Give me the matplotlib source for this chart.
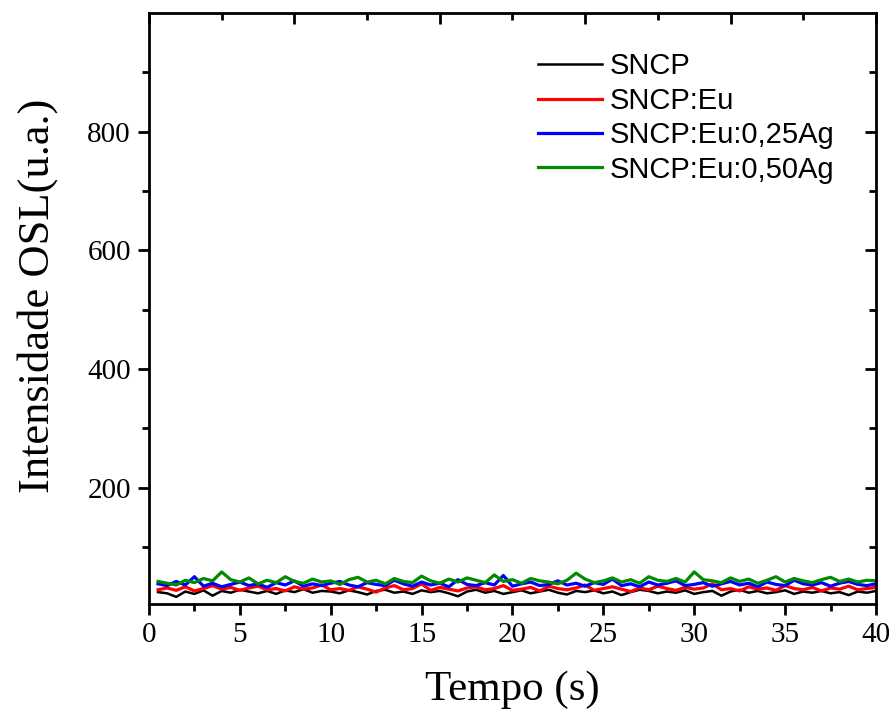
import numpy as np
import matplotlib.pyplot as plt

tempo = np.arange(1, 81) * 0.5

sncp = [24, 22, 16, 25, 21, 27, 18, 26, 23, 28, 25, 22, 26, 21, 27, 24, 29, 23, 26, 25,
        22, 27, 24, 20, 26, 28, 23, 25, 21, 27, 24, 26, 22, 17, 25, 28, 23, 26, 21, 24,
        27, 22, 25, 28, 23, 20, 26, 24, 27, 22, 25, 19, 24, 28, 26, 22, 25, 23, 27, 21,
        24, 26, 18, 25, 28, 23, 26, 22, 24, 27, 21, 25, 23, 26, 22, 24, 19, 25, 23, 26]
sncp_eu = [28, 31, 27, 33, 26, 30, 35, 29, 32, 27, 31, 34, 28, 30, 26, 33, 29, 31, 36, 28,
           30, 27, 33, 29, 24, 31, 35, 28, 30, 38, 27, 32, 29, 26, 31, 33, 28, 30, 35, 27,
           29, 32, 26, 34, 30, 28, 31, 36, 27, 30, 33, 29, 25, 31, 28, 34, 30, 27, 32, 29,
           31, 38, 28, 30, 26, 33, 29, 31, 27, 35, 30, 28, 32, 26, 31, 29, 34, 28, 30, 32]
sncp_ag25 = [38, 35, 42, 36, 50, 34, 39, 33, 37, 41, 35, 38, 32, 40, 36, 43, 34, 38, 35, 39,
             42, 36, 33, 40, 37, 35, 44, 38, 34, 41, 36, 39, 33, 45, 37, 35, 40, 36, 52, 34,
             38, 41, 35, 37, 43, 36, 39, 34, 40, 37, 46, 35, 38, 33, 41, 36, 39, 43, 35, 37,
             40, 34, 38, 42, 36, 39, 33, 41, 37, 35, 44, 38, 36, 40, 34, 39, 42, 37, 35, 38]
sncp_ag50 = [42, 39, 36, 44, 40, 47, 43, 58, 45, 41, 48, 38, 44, 40, 50, 42, 39, 46, 41, 43,
             37, 45, 49, 41, 44, 38, 47, 42, 40, 51, 43, 39, 46, 41, 48, 44, 40, 53, 42, 45,
             39, 47, 43, 41, 38, 44, 56, 46, 40, 43, 48, 41, 45, 39, 50, 44, 42, 47, 41, 58,
             45, 43, 40, 48, 42, 46, 39, 44, 50, 41, 47, 43, 40, 45, 49, 42, 46, 41, 44, 43]

labels = ["SNCP", "SNCP:Eu", "SNCP:Eu:0,25Ag", "SNCP:Eu:0,50Ag"]
colors = ["black", "#ff0000", "#0000ff", "#008c00"]
widths = [1.8, 2.3, 2.3, 2.3]

fig = plt.figure(figsize=(8.92, 7.11), dpi=100)
ax = fig.add_axes([0.167, 0.1505, 0.815, 0.8312])

for ys, lab, c, w in zip([sncp, sncp_eu, sncp_ag25, sncp_ag50], labels, colors, widths):
    ax.plot(tempo, ys, color=c, lw=w, label=lab)

ax.set_xlim(0, 40)
ax.set_ylim(4, 1000)
ax.set_xticks(range(0, 41, 5))
ax.set_xticks(np.arange(2.5, 40, 5), minor=True)
ax.set_yticks(range(200, 801, 200))
ax.set_yticks(range(100, 1000, 200), minor=True)

for s in ax.spines.values():
    s.set_linewidth(2)
ax.tick_params(which="both", direction="out", width=2, top=False, right=False,
               labelsize=21)
ax.tick_params(which="major", length=8, pad=5)
ax.tick_params(which="minor", length=5)
for lab in ax.get_xticklabels() + ax.get_yticklabels():
    lab.set_family("Liberation Serif")

# mirrored inward ticks on top and right (top one uses its own spacing)
top = ax.secondary_xaxis("top")
top.set_xticks(range(0, 41, 8))
top.set_xticks(range(4, 41, 8), minor=True)
top.tick_params(which="both", direction="in", width=2, labeltop=False)
top.tick_params(which="major", length=8)
top.tick_params(which="minor", length=5)
right = ax.secondary_yaxis("right")
right.set_yticks(range(200, 801, 200))
right.set_yticks(range(100, 1000, 200), minor=True)
right.tick_params(which="both", direction="in", width=2, labelright=False)
right.tick_params(which="major", length=8)
right.tick_params(which="minor", length=5)

ax.set_xlabel("Tempo (s)", fontsize=31, family="Liberation Serif", labelpad=16)
ax.set_ylabel("Intensidade OSL(u.a.)", fontsize=32, family="Liberation Serif")
ax.yaxis.set_label_coords(-0.125, 0.522)

ax.legend(loc="upper left", bbox_to_anchor=(0.519, 0.953), borderaxespad=0,
          frameon=False, prop={"family": "Liberation Sans", "size": 21},
          handlelength=2.2, handletextpad=0.27, labelspacing=0.22)

plt.savefig("out.png", dpi=100)
plt.close()
